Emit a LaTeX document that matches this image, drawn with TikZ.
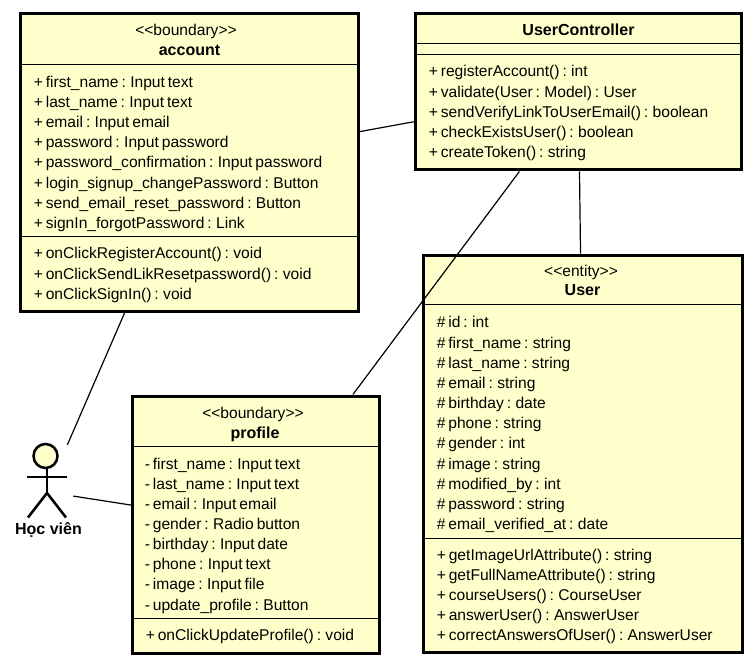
\documentclass[tikz,border=0pt]{standalone}
\usepackage{fontspec}
\setmainfont{Liberation Sans}
\definecolor{umlfill}{HTML}{FFFFCC}
\newcommand{\regfont}{\fontsize{11.7pt}{13pt}\selectfont\spaceskip=2.2pt\relax}
\newcommand{\boldfont}{\fontsize{12pt}{14pt}\selectfont\bfseries}
\tikzset{
  x=0.75pt,y=-0.75pt,
  umlbox/.style={draw=black,line width=2.25pt,fill=umlfill,inner sep=0pt,rectangle},
  divider/.style={draw=black,line width=0.75pt},
  conn/.style={draw=black,line width=0.9pt},
  stick/.style={draw=black,line width=1.9pt},
  member/.style={anchor=base west,inner sep=0pt,font=\regfont},
  ctext/.style={anchor=base,inner sep=0pt,font=\regfont},
  ctitle/.style={anchor=base,inner sep=0pt,font=\boldfont},
}
\newcommand{\umlrows}[4]{%
  \foreach \t [count=\i from 0] in #4 {\node[member] (#1\i) at (#2,{#3+\i*20.15}) {\t};}}
\begin{document}
\begin{tikzpicture}
\useasboundingbox (0,0) rectangle (756,666);
\fill[white] (0,0) rectangle (756,666);
% classes
\node[umlbox,minimum width=253.5pt,minimum height=223.5pt] (account) at (189.5,162.5) {};
\node[umlbox,minimum width=244.5pt,minimum height=117pt] (userctl) at (578.5,92) {};
\node[umlbox,minimum width=239.25pt,minimum height=298.1pt] (user) at (583,453.75) {};
\node[umlbox,minimum width=185.25pt,minimum height=192.75pt] (profile) at (256,524.5) {};
% actor bounding node
\node[rectangle,inner sep=0pt,minimum width=39pt,minimum height=70.5pt] (actor) at (47,492) {};
% account
\node[ctext] (acc-st) at (186,36) {<{}<boundary>{}>};
\node[ctitle] (acc-t) at (189.5,56) {account};
\draw[divider] (account.west |- 0,64.5) -- (account.east |- 0,64.5);
\draw[divider] (account.west |- 0,236.5) -- (account.east |- 0,236.5);
\umlrows{acc-a}{33.5}{87.3}{{+ first\_name : Input text,+ last\_name : Input text,+ email : Input email,+ password : Input password,+ password\_confirmation : Input password,+ login\_signup\_changePassword : Button,+ send\_email\_reset\_password : Button,+ signIn\_forgotPassword : Link}}
\umlrows{acc-m}{33.5}{259}{{+ onClickRegisterAccount() : void,+ onClickSendLikResetpassword() : void,+ onClickSignIn() : void}}
% controller
\node[ctitle] (ctl-t) at (578.5,36) {UserController};
\draw[divider] (userctl.west |- 0,44) -- (userctl.east |- 0,44);
\draw[divider] (userctl.west |- 0,54.5) -- (userctl.east |- 0,54.5);
\umlrows{ctl-m}{428.5}{77}{{+ registerAccount() : int,+ validate(User : Model) : User,+ sendVerifyLinkToUserEmail() : boolean,+ checkExistsUser() : boolean,+ createToken() : string}}
% user
\node[ctext] (usr-st) at (581,277) {<{}<entity>{}>};
\node[ctitle] (usr-t) at (582.5,296) {User};
\draw[divider] (user.west |- 0,305) -- (user.east |- 0,305);
\draw[divider] (user.west |- 0,538) -- (user.east |- 0,538);
\umlrows{usr-a}{436.5}{328}{{\# id : int,\# first\_name : string,\# last\_name : string,\# email : string,\# birthday : date,\# phone : string,\# gender : int,\# image : string,\# modified\_by : int,\# password : string,\# email\_verified\_at : date}}
\umlrows{usr-m}{436.5}{560}{{+ getImageUrlAttribute() : string,+ getFullNameAttribute() : string,+ courseUsers() : CourseUser,+ answerUser() : AnswerUser,+ correctAnswersOfUser() : AnswerUser}}
% profile
\node[ctext] (prf-st) at (253,418) {<{}<boundary>{}>};
\node[ctitle] (prf-t) at (255,438) {profile};
\draw[divider] (profile.west |- 0,446) -- (profile.east |- 0,446);
\draw[divider] (profile.west |- 0,618.5) -- (profile.east |- 0,618.5);
\umlrows{prf-a}{144.5}{469}{{- first\_name : Input text,- last\_name : Input text,- email : Input email,- gender : Radio button,- birthday : Input date,- phone : Input text,- image : Input file,- update\_profile : Button}}
\umlrows{prf-m}{145.5}{640.5}{{+ onClickUpdateProfile() : void}}
% stick figure
\draw[stick,fill=umlfill] (45.5,456) circle[radius=12];
\draw[stick] (47,468) -- (47,493);
\draw[stick] (27,477) -- (67,477);
\draw[stick] (47,493) -- (28,517.5);
\draw[stick] (47,493) -- (66,517.5);
\node[ctitle] (actor-l) at (48.5,534) {Học viên};
% connectors
\draw[conn] (account) -- (userctl);
\draw[conn] (userctl) -- (user);
\draw[conn] (userctl) -- (profile);
\draw[conn] (account) -- (actor);
\draw[conn] (actor) -- (profile);
\end{tikzpicture}
\end{document}
